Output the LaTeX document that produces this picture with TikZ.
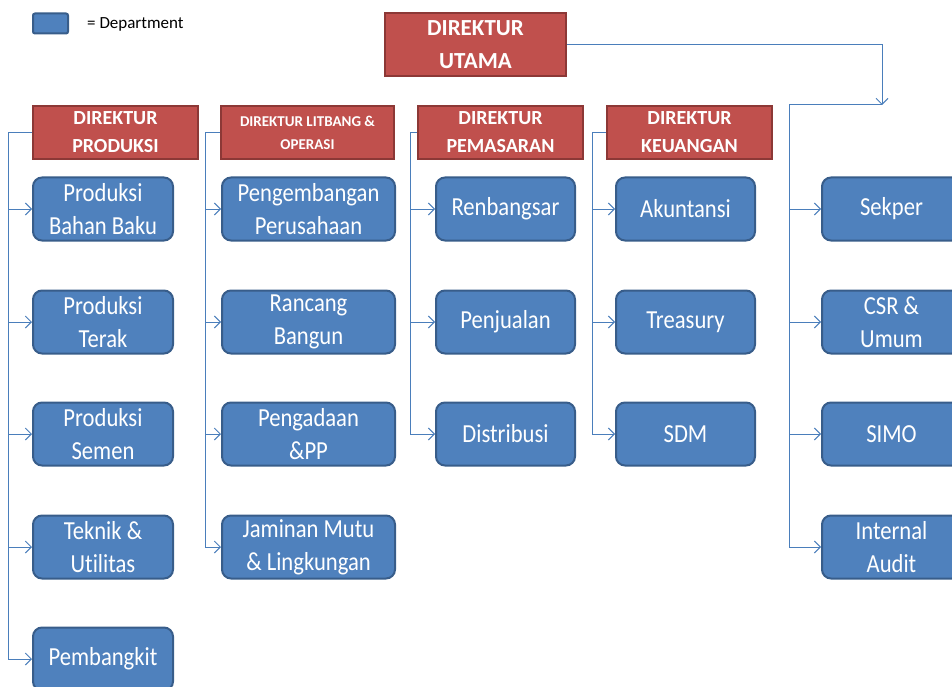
\documentclass[tikz,border=0pt]{standalone}
\usepackage{fontspec}
\setmainfont{Carlito}[Ligatures=NoCommon]
\newfontfamily\deptfont{Carlito}[FakeStretch=0.87, Ligatures=NoCommon]
\usetikzlibrary{arrows.meta}
\definecolor{deptfill}{HTML}{4F81BD}
\definecolor{deptdraw}{HTML}{385D8A}
\definecolor{dirfill}{HTML}{C0504D}
\definecolor{dirdraw}{HTML}{8C3836}
\definecolor{linkc}{HTML}{4A7EBB}
\begin{document}
\begin{tikzpicture}[x=1pt,y=-1pt,
 dept/.style={draw=deptdraw, line width=2pt, fill=deptfill, rounded corners=9pt, text=white, minimum height=63pt, inner sep=0pt, align=center, font=\deptfont\fontsize{26}{33}\selectfont},
 dir/.style={draw=dirdraw, line width=2pt, fill=dirfill, text=white, minimum height=53pt, inner sep=0pt, align=center, font=\bfseries\fontsize{20}{28}\selectfont},
 link/.style={draw=linkc, line width=1pt},
 arr/.style={link, -{Straight Barb[length=6pt,width=12pt]}}]
\useasboundingbox (0,0) rectangle (952,687);
\clip (0,0) rectangle (952,687);
% legend
\node[draw=deptdraw, line width=2pt, fill=deptfill, rounded corners=2pt, minimum width=35pt, minimum height=20pt, inner sep=0pt] (leg) at (50.5,23.5) {};
\node[anchor=west, inner sep=0pt, font=\fontsize{17}{20}\selectfont] (legt) at (87,24) {= Department};
% directors
\node[dir, minimum width=181pt, minimum height=63pt, font=\bfseries\fontsize{23}{33}\selectfont] (du) at (475.5,45) {DIREKTUR\\UTAMA};
\node[dir, minimum width=165pt] (dp) at (115.5,132.5) {DIREKTUR\\PRODUKSI};
\node[dir, minimum width=173pt, font=\bfseries\fontsize{15}{23}\selectfont] (dl) at (307.5,132.5) {DIREKTUR LITBANG \&\\OPERASI};
\node[dir, minimum width=165pt] (dm) at (500.5,132.5) {DIREKTUR\\PEMASARAN};
\node[dir, minimum width=165pt] (dk) at (689.5,132.5) {DIREKTUR\\KEUANGAN};
% column 1
\begin{scope}[every node/.append style={dept, minimum width=140pt}]
\node (p1) at (103,209) {Produksi\\Bahan Baku};
\node (p2) at (103,322) {Produksi\\Terak};
\node (p3) at (103,434) {Produksi\\Semen};
\node (p4) at (103,547) {Teknik \&\\Utilitas};
\node (p5) at (103,659) {Pembangkit};
\end{scope}
% column 2
\begin{scope}[every node/.append style={dept, minimum width=173pt}]
\node (l1) at (308.5,209) {Pengembangan\\Perusahaan};
\node (l2) at (308.5,322) {Rancang\\Bangun};
\node (l3) at (308.5,434) {Pengadaan\\\&PP};
\node (l4) at (308.5,547) {Jaminan Mutu\\\& Lingkungan};
\end{scope}
% column 3
\begin{scope}[every node/.append style={dept, minimum width=139pt}]
\node (m1) at (505.5,209) {Renbangsar};
\node (m2) at (505.5,322) {Penjualan};
\node (m3) at (505.5,434) {Distribusi};
\end{scope}
% column 4
\begin{scope}[every node/.append style={dept, minimum width=139pt}]
\node (k1) at (685.5,209) {Akuntansi};
\node (k2) at (685.5,322) {Treasury};
\node (k3) at (685.5,434) {SDM};
\end{scope}
% column 5
\begin{scope}[every node/.append style={dept, minimum width=139pt}]
\node (s1) at (891.5,209) {Sekper};
\node (s2) at (891.5,322) {CSR \&\\Umum};
\node (s3) at (891.5,434) {SIMO};
\node (s4) at (891.5,547) {Internal\\Audit};
\end{scope}
% connectors
\coordinate (v1) at (8,132.5);
\coordinate (v2) at (205,132.5);
\coordinate (v3) at (410,132.5);
\coordinate (v4) at (592,132.5);
\coordinate (t5) at (882,105);
\coordinate (v5) at (789,105);
\draw[link] (dp.west) -- (v1) -- (v1 |- p5.west);
\foreach \n in {p1,p2,p3,p4,p5} \draw[arr] (v1 |- \n.west) -- (\n.west);
\draw[link] (dl.west) -- (v2) -- (v2 |- l4.west);
\foreach \n in {l1,l2,l3,l4} \draw[arr] (v2 |- \n.west) -- (\n.west);
\draw[link] (dm.west) -- (v3) -- (v3 |- m3.west);
\foreach \n in {m1,m2,m3} \draw[arr] (v3 |- \n.west) -- (\n.west);
\draw[link] (dk.west) -- (v4) -- (v4 |- k3.west);
\foreach \n in {k1,k2,k3} \draw[arr] (v4 |- \n.west) -- (\n.west);
\draw[arr] (du.east) -| (t5);
\draw[link] (t5) -- (v5) -- (v5 |- s4.west);
\foreach \n in {s1,s2,s3,s4} \draw[arr] (v5 |- \n.west) -- (\n.west);
\end{tikzpicture}
\end{document}
